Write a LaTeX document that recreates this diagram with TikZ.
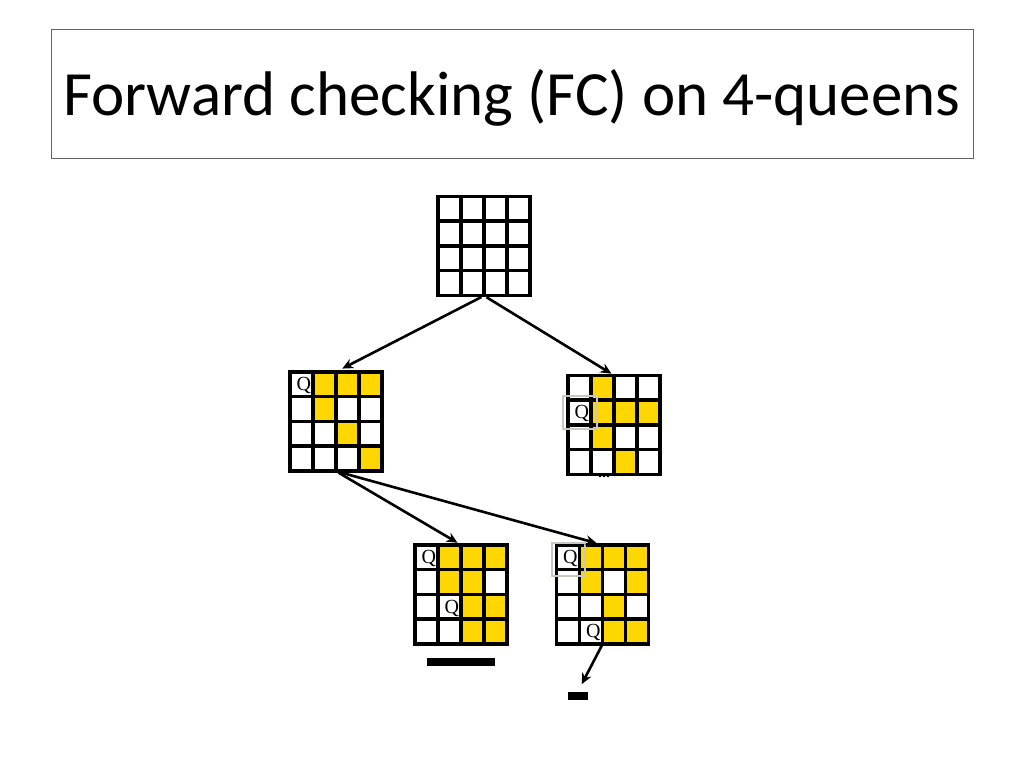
\documentclass[tikz,border=0pt]{standalone}
\usepackage{fontspec}
\setmainfont{Liberation Serif}
\newfontfamily\titlefont{Carlito}
\usetikzlibrary{arrows.meta,calc}

\definecolor{qyellow}{RGB}{255,215,0}
\definecolor{framegray}{RGB}{100,100,100}
\definecolor{markgray}{RGB}{200,200,190}

\tikzset{
	board/.style = {rectangle, inner sep = 0pt, minimum width = 92pt, minimum height = 99pt},
	cell/.style = {fill = qyellow},
	gridline/.style = {line width = 3.4pt, line cap = rect},
	branch/.style = {-{Stealth[length = 11pt, width = 10pt]}, line width = 2.6pt},
	queen/.style = {font = \fontsize{20}{20}\selectfont, inner sep = 0pt, anchor = east},
	checked/.style = {draw = markgray, line width = 1.8pt},
	deadend/.style = {fill = black, inner sep = 0pt},
	titlebox/.style = {draw = framegray, line width = 1pt, minimum width = 922pt, minimum height = 128pt, text height = 46pt, text depth = 4pt, font = \titlefont\fontsize{63}{63}\selectfont}
}

%	4x4 board: name, centre, yellow cells (col/row), queens (col/row)
\newcommand{\qboard}[4]{%
	\node[board] (#1) at (#2) {};
	\begin{scope}[shift = {(#1.north west)}]
		\def\cells{#3}
		\ifx\cells\empty\else
			\foreach \c/\r in {#3}
				\fill[cell] ({(\c-1)*23}, {(\r-1)*24.75}) rectangle ({\c*23}, {\r*24.75});
		\fi
		\foreach \i in {0,...,4} {
			\draw[gridline] ({\i*23}, 0) -- ({\i*23}, 99);
			\draw[gridline] (0, {\i*24.75}) -- (92, {\i*24.75});
		}
		\def\queens{#4}
		\ifx\queens\empty\else
			\foreach \c/\r in {#4}
				\node[queen] at ({\c*23-1.5}, {(\r-0.5)*24.75+1.5}) {Q};
		\fi
	\end{scope}}

\begin{document}
\begin{tikzpicture}[x = 1pt, y = -1pt]
	\useasboundingbox (0, 0) rectangle (1024, 768);
	
	%	title
	\node[titlebox] (title) at (512, 94) {Forward checking (FC) on 4-queens};
	
	%	boards
	\qboard{root}{484, 246}{}{}
	\qboard{qa}{336, 421.5}{2/1, 3/1, 4/1, 2/2, 3/3, 4/4}{1/1}
	\node[font = \fontsize{16}{16}\selectfont\bfseries, inner sep = 0pt] (more) at (604, 476) {...};
	\qboard{qb}{614, 425}{2/1, 2/2, 3/2, 4/2, 2/3, 3/4}{1/2}
	\qboard{qc}{461, 594.5}{2/1, 3/1, 4/1, 2/2, 3/2, 3/3, 4/3, 3/4, 4/4}{1/1, 2/3}
	\qboard{qd}{602.5, 594.5}{2/1, 3/1, 4/1, 2/2, 4/2, 3/3, 3/4, 4/4}{1/1, 2/4}
	
	%	last queen placed
	\draw[checked] ($(qb.north west) + (-5, 20.5)$) rectangle ($(qb.north west) + (29, 53.5)$);
	\draw[checked] ($(qd.north west) + (-4.5, -2)$) rectangle ($(qd.north west) + (28.5, 31)$);
	
	%	dead ends
	\node[deadend, minimum width = 68pt, minimum height = 8pt] (fail1) at (461, 661.5) {};
	\node[deadend, minimum width = 20pt, minimum height = 8pt] (fail2) at (578, 695.5) {};
	
	%	branches
	\draw[branch, shorten < = 3pt, shorten > = 7pt] (root.south) -- (qa.north);
	\draw[branch, shorten < = 3pt, shorten > = 3pt] (root.south) -- (qb.north);
	\draw[branch, shorten < = 3pt, shorten > = 4pt] (qa.south) -- (qc.north);
	\draw[branch, shorten < = 3pt, shorten > = 6pt] (qa.south) -- (qd.north);
	\draw[branch, shorten < = 1pt, shorten > = 8pt] (qd.south) -- (fail2.north);
\end{tikzpicture}
\end{document}
